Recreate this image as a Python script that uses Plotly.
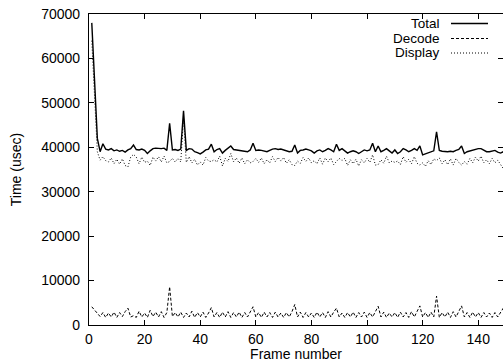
import plotly.graph_objects as go

frames = list(range(1, 150))

total = [68000, 55000, 42000, 39000, 40800, 39600, 39400, 39700, 39200, 39400,
         39100, 39300, 38900, 39400, 39700, 40500, 39500, 39400, 39600, 39300,
         38600, 39200, 39700, 39800, 39700, 39700, 39800, 39300, 45400, 39400,
         39500, 39300, 39600, 48200, 39300, 39700, 39600, 39000, 38800, 38500,
         38900, 39400, 39600, 40700, 39000, 39500, 39700, 38700, 39300, 39800,
         40300, 39500, 39400, 39300, 39300, 39100, 39000, 39400, 40900, 39300,
         39400, 39300, 39200, 39000, 39300, 39600, 39700, 39500, 39600, 39400,
         39200, 39000, 39100, 40500, 38700, 39300, 39400, 39600, 39400, 39200,
         38700, 39200, 39400, 39000, 39300, 39700, 39400, 39000, 40700, 39300,
         39700, 39200, 38700, 39000, 39200, 39000, 38600, 39000, 39400, 39200,
         39400, 40900, 39000, 40300, 39000, 39300, 39700, 39200, 38700, 39400,
         38600, 39000, 39700, 39400, 39000, 39300, 39700, 39300, 40300, 38300,
         38500, 38700, 39000, 39200, 43500, 39300, 39100, 39000, 39000, 39100,
         39000, 39300, 39500, 40300, 38600, 39000, 39200, 39400, 39600, 39700,
         39700, 39300, 39000, 39000, 39200, 39300, 38900, 38700, 39000]

decode = [4100, 3300, 2500, 1900, 2800, 1700, 2700, 1800, 2900, 1700,
          2800, 1900, 3000, 3800, 1800, 2100, 1700, 3100, 1800, 2700,
          1700, 3300, 1900, 2900, 1800, 3000, 1700, 2800, 8600, 1900,
          2800, 1800, 2900, 1700, 2700, 1800, 3100, 1700, 2800, 1800,
          2900, 1700, 2700, 3900, 1800, 2800, 1700, 2900, 1800, 3000,
          1700, 2800, 1800, 2900, 1700, 2800, 1800, 2900, 4100, 1800,
          2800, 1700, 2900, 1800, 2800, 1700, 2900, 1800, 2700, 1700,
          2800, 1800, 3000, 4600, 1800, 2900, 1700, 2800, 1800, 2700,
          1700, 2900, 1800, 2800, 1700, 3000, 1800, 2900, 3800, 1800,
          2700, 1700, 2800, 1800, 2900, 1700, 2800, 1800, 2900, 1700,
          2800, 1800, 3000, 4200, 1800, 2900, 1700, 2700, 1800, 2800,
          1700, 2900, 1800, 2800, 1700, 3000, 1800, 2900, 4300, 1800,
          2800, 1700, 2900, 1800, 6500, 1700, 2800, 1800, 2900, 1700,
          3000, 1800, 2900, 4300, 1800, 2800, 1700, 2900, 1800, 2800,
          1700, 2800, 1800, 2700, 1700, 2800, 1800, 2700, 3800]

display = [64000, 51500, 39000, 37100, 37900, 37000, 36700, 37600, 36300, 37300,
           36200, 37400, 35900, 35600, 37800, 38400, 37800, 36300, 37800, 36600,
           36900, 35900, 37800, 36900, 37900, 36700, 38000, 36500, 36800, 37500,
           36700, 37500, 36700, 46500, 36600, 37900, 36500, 37300, 36000, 36700,
           36000, 37700, 36900, 36800, 37200, 36700, 38000, 35800, 37500, 36800,
           38600, 36700, 37600, 36400, 37600, 36300, 37200, 36500, 36800, 37500,
           36600, 37600, 36300, 37200, 36500, 37900, 36800, 37700, 36900, 37700,
           36400, 37200, 36100, 35900, 36900, 36400, 37700, 36800, 37600, 36500,
           37000, 36300, 37600, 36200, 37600, 36700, 37600, 36100, 36900, 37500,
           37000, 37500, 35900, 37200, 36300, 37300, 35800, 37200, 36500, 37500,
           36600, 38300, 36000, 36100, 37200, 36400, 38000, 36500, 36900, 36600,
           36900, 36100, 37900, 36600, 37300, 36300, 37900, 36400, 36000, 36500,
           35700, 37000, 36100, 37400, 37000, 37600, 36300, 37200, 36100, 37400,
           36000, 37500, 36600, 36000, 36800, 36200, 37500, 36500, 37800, 36900,
           38000, 36500, 37200, 36300, 37500, 36500, 37100, 36000, 35200]

x_ticks = [0, 20, 40, 60, 80, 100, 120, 140]
y_ticks = [0, 10000, 20000, 30000, 40000, 50000, 60000, 70000]
series_names = ["Total", "Decode", "Display"]

FONT = "Liberation Sans, Arial, Helvetica, sans-serif"
W, H = 503, 362
L, R, T, B = 89, 0, 14, 37

fig = go.Figure()
fig.add_trace(go.Scatter(x=frames, y=total, mode="lines", name=series_names[0],
                         line=dict(color="black", width=1.4)))
fig.add_trace(go.Scatter(x=frames, y=decode, mode="lines", name=series_names[1],
                         line=dict(color="black", width=1, dash="3px,2px")))
fig.add_trace(go.Scatter(x=frames, y=display, mode="lines", name=series_names[2],
                         line=dict(color="black", width=1, dash="1px,2px")))

# gnuplot-style key: text right-aligned, followed by line sample
pw = W - L - R
ph = H - T - B
def px_x(p):
    return (p - L) / pw
def px_y(p):
    return 1 - (p - T) / ph

key_y = [23.5, 38.5, 53]
dashes = ["solid", "3px,2px", "1px,2px"]
widths = [1.4, 1, 1]
for name, yy, d, w in zip(series_names, key_y, dashes, widths):
    fig.add_annotation(x=px_x(441), y=px_y(yy), xref="paper", yref="paper",
                       text=name, showarrow=False, xanchor="right", yanchor="middle",
                       borderpad=0,
                       font=dict(family=FONT, size=13.5, color="black"))
    fig.add_shape(type="line", xref="paper", yref="paper",
                  x0=px_x(451), x1=px_x(488), y0=px_y(yy), y1=px_y(yy),
                  line=dict(color="black", width=w, dash=d))

axis_common = dict(showline=True, linecolor="black", linewidth=1.2, mirror="ticks",
                   ticks="inside", ticklen=5, tickwidth=1, tickcolor="black",
                   showgrid=False, zeroline=False,
                   tickfont=dict(family=FONT, size=14, color="black"))

fig.update_layout(
    width=W, height=H,
    margin=dict(l=L, r=R, t=T, b=B),
    paper_bgcolor="white", plot_bgcolor="white",
    showlegend=False,
    xaxis=dict(range=[0, 148.9], tickvals=x_ticks, ticklabelstandoff=1,
               title=dict(text="Frame number", font=dict(family=FONT, size=14, color="black"),
                          standoff=3),
               **axis_common),
    yaxis=dict(range=[0, 70000], tickvals=y_ticks, tickformat="d", ticklabelstandoff=5,
               title=dict(text="Time (usec)", font=dict(family=FONT, size=14, color="black"),
                          standoff=16),
               **axis_common),
)

fig.write_html("out.html",
               config={"displayModeBar": False},
               post_script="document.body.style.margin='0px';document.body.style.overflow='hidden';")
